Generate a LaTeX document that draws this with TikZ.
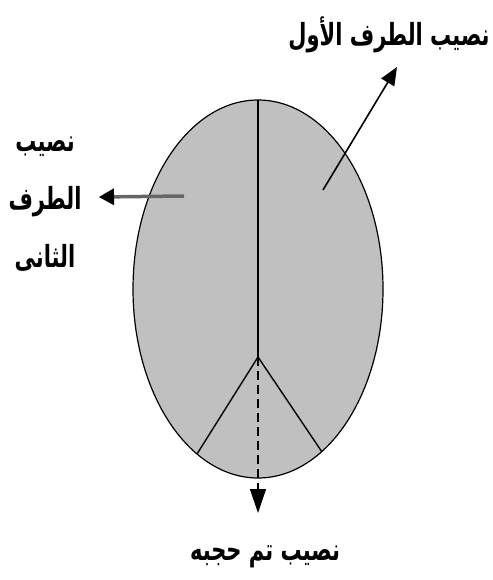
\documentclass[tikz,border=0pt]{standalone}
\usepackage{fontspec}
\usetikzlibrary{arrows.meta}
\newfontfamily\arabicfont[Script=Arabic]{DejaVu Sans}
\TeXXeTstate=1
\definecolor{piegray}{RGB}{192,192,192}
\newcommand{\artxt}[1]{\scalebox{1}[1.45]{\beginR #1\endR}}
\tikzset{
  lbl/.style={font=\arabicfont\bfseries\fontsize{21}{58}\selectfont, inner sep=0pt, align=center},
  arr/.style={line width=1.6pt, -{Triangle[length=18pt,width=15pt]}},
  part/.style={line width=1.4pt}
}
\begin{document}
\begin{tikzpicture}[x=1pt,y=-1pt]
\useasboundingbox (0,0) rectangle (492,580);
\draw[fill=piegray, line width=1.2pt] (258,289) ellipse [x radius=125, y radius=189];
\coordinate (top) at (258,100);
\coordinate (v) at (258,357);
\coordinate (bl) at (197,454);
\coordinate (br) at (322,452);
\coordinate (s1) at (323,190);
\coordinate (s2) at (184,196);
\coordinate (bt) at (258,513);
\node[lbl] (first) at (389,35) {\artxt{نصيب الطرف الأول}};
\node[lbl] (second) at (45,204) {\artxt{نصيب}\\\artxt{الطرف}\\\artxt{الثانى}};
\node[lbl] (hidden) at (265,557) {\artxt{نصيب تم حجبه}};
\coordinate (t1) at (397,67);
\coordinate (t2) at (99,197);
\draw[part] (top) -- (v);
\draw[part] (v) -- (bl);
\draw[part] (v) -- (br);
\draw[line width=1.4pt, dash pattern=on 9pt off 5pt] (v) -- (258,492);
\draw[line width=1.4pt, -{Triangle[length=24pt,width=16pt]}] (258,486) -- (bt);
\draw[arr] (s1) -- (t1);
\draw[draw=black!60, line width=3.5pt, -{Triangle[length=15pt,width=17pt,color=black,line width=0pt]}] (s2) -- (t2);
\end{tikzpicture}
\end{document}
